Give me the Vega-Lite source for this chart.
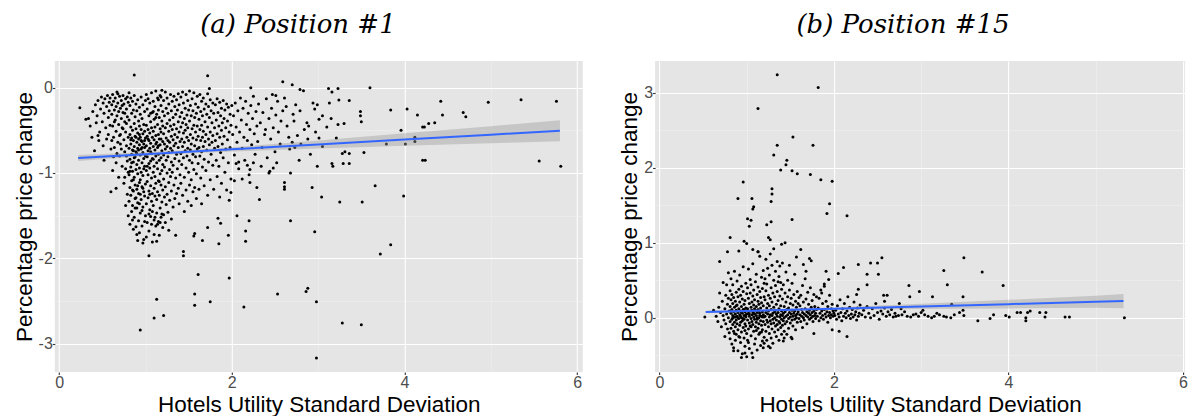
{
  "$schema": "https://vega.github.io/schema/vega-lite/v6.json",
  "background": "white",
  "padding": {"left": 12.8, "top": 12, "right": 0, "bottom": 0},
  "spacing": 35.3,
  "config": {
    "view": {"fill": "#E5E5E5", "stroke": null},
    "axis": {
      "domain": false,
      "grid": true,
      "gridColor": "white",
      "gridWidth": 1.1,
      "tickColor": "#333333",
      "tickSize": 2.5,
      "tickWidth": 1.1,
      "labelFont": "Liberation Sans",
      "labelFontSize": 16,
      "labelColor": "#4D4D4D",
      "labelPadding": 0,
      "labelOverlap": false,
      "labelFlush": false,
      "titleFont": "Liberation Sans",
      "titleFontSize": 22.5,
      "titleFontWeight": "normal",
      "titleColor": "black"
    },
    "title": {
      "font": "DejaVu Serif",
      "fontStyle": "italic",
      "fontWeight": "normal",
      "fontSize": 26,
      "color": "black",
      "anchor": "middle",
      "frame": "bounds",
      "offset": 23
    }
  },
  "datasets": {
    "a": [
      {"x":0.24,"y":-0.235},{"x":0.34,"y":-0.36},{"x":0.41,"y":-0.74},{"x":0.87,"y":0.15},{"x":1.72,"y":0.14},{"x":1.74,"y":-0.01},{"x":2.22,"y":0.0},{"x":2.59,"y":0.07},{"x":2.70,"y":0.035},{"x":2.79,"y":-0.02},{"x":2.83,"y":-0.035},{"x":3.12,"y":-0.01},{"x":3.23,"y":-0.01},{"x":3.60,"y":0.0},{"x":3.16,"y":-0.05},{"x":3.36,"y":-0.15},{"x":3.24,"y":-0.145},{"x":3.49,"y":-0.28},{"x":3.49,"y":-0.33},{"x":3.50,"y":-0.40},{"x":3.84,"y":-0.26},{"x":4.03,"y":-0.25},{"x":4.15,"y":-0.32},{"x":4.42,"y":-0.16},{"x":4.44,"y":-0.32},{"x":4.68,"y":-0.29},{"x":4.71,"y":-0.34},{"x":4.97,"y":-0.17},{"x":5.35,"y":-0.14},{"x":5.76,"y":-0.16},{"x":4.35,"y":-0.41},{"x":4.28,"y":-0.42},{"x":4.23,"y":-0.46},{"x":4.21,"y":-0.46},{"x":3.96,"y":-0.50},{"x":4.12,"y":-0.58},{"x":4.12,"y":-0.63},{"x":4.01,"y":-0.66},{"x":3.79,"y":-0.66},{"x":4.21,"y":-0.85},{"x":4.24,"y":-0.85},{"x":5.56,"y":-0.86},{"x":5.81,"y":-0.92},{"x":3.31,"y":-0.75},{"x":3.36,"y":-0.77},{"x":3.53,"y":-0.76},{"x":3.28,"y":-0.77},{"x":3.29,"y":-0.89},{"x":3.36,"y":-0.89},{"x":3.17,"y":-0.92},{"x":3.16,"y":-0.89},{"x":3.66,"y":-1.15},{"x":3.99,"y":-1.27},{"x":3.25,"y":-1.34},{"x":3.51,"y":-1.34},{"x":3.04,"y":-1.28},{"x":2.93,"y":-1.17},{"x":2.99,"y":-0.92},{"x":2.68,"y":-1.0},{"x":2.61,"y":-1.11},{"x":2.61,"y":-1.16},{"x":2.61,"y":-1.19},{"x":2.68,"y":-1.56},{"x":2.96,"y":-1.69},{"x":2.32,"y":-1.31},{"x":3.84,"y":-1.84},{"x":3.72,"y":-1.95},{"x":1.85,"y":-1.83},{"x":1.72,"y":-1.64},{"x":1.84,"y":-1.53},{"x":1.87,"y":-1.59},{"x":1.96,"y":-1.73},{"x":2.06,"y":-1.50},{"x":2.20,"y":-1.56},{"x":2.16,"y":-1.68},{"x":2.16,"y":-1.80},{"x":1.44,"y":-1.92},{"x":1.44,"y":-1.97},{"x":1.61,"y":-2.19},{"x":1.57,"y":-1.71},{"x":1.56,"y":-1.74},{"x":1.66,"y":-1.79},{"x":1.04,"y":-1.97},{"x":1.97,"y":-2.23},{"x":1.57,"y":-2.42},{"x":1.57,"y":-2.55},{"x":1.75,"y":-2.51},{"x":2.14,"y":-2.57},{"x":2.53,"y":-2.42},{"x":2.88,"y":-2.35},{"x":2.86,"y":-2.39},{"x":2.98,"y":-2.51},{"x":1.13,"y":-2.48},{"x":1.10,"y":-2.70},{"x":1.21,"y":-2.67},{"x":0.94,"y":-2.84},{"x":3.28,"y":-2.76},{"x":3.50,"y":-2.78},{"x":2.98,"y":-3.17},{"x":0.60,"y":-1.22},{"x":0.66,"y":-1.18},{"x":0.51,"y":-0.68},{"x":0.45,"y":-0.56},{"x":2.08,"y":-0.87},{"x":2.21,"y":-0.96},{"x":2.43,"y":-1.0},{"x":2.48,"y":-0.94},{"x":2.21,"y":-1.11},{"x":2.29,"y":-1.17},{"x":2.03,"y":-1.09},{"x":1.99,"y":-1.23},{"x":2.70,"y":-0.64},{"x":2.73,"y":-0.70},{"x":3.01,"y":-0.59},{"x":3.21,"y":-0.59},{"x":2.87,"y":-0.41},{"x":2.89,"y":-0.45},{"x":3.01,"y":-0.37},{"x":3.05,"y":-0.33},{"x":3.15,"y":-0.36},{"x":3.23,"y":-0.43},{"x":3.30,"y":-0.42},{"x":2.96,"y":-0.25},{"x":2.94,"y":-0.18},{"x":2.99,"y":-0.20},{"x":3.13,"y":-0.18},{"x":2.74,"y":-0.20},{"x":2.79,"y":-0.27},{"x":2.72,"y":-0.39},{"x":2.63,"y":-0.22},{"x":2.61,"y":-0.12},{"x":2.51,"y":-0.09},
      {"x":0.31,"y":-0.37},{"x":0.36,"y":-0.45},{"x":0.39,"y":-0.28},{"x":0.42,"y":-0.20},{"x":0.44,"y":-0.33},{"x":0.45,"y":-0.15},{"x":0.47,"y":-0.52},{"x":0.48,"y":-0.25},{"x":0.49,"y":-0.11},{"x":0.50,"y":-0.40},{"x":0.51,"y":-0.18},{"x":0.52,"y":-0.30},{"x":0.53,"y":-0.13},{"x":0.54,"y":-0.47},{"x":0.55,"y":-0.22},{"x":0.55,"y":-0.60},{"x":0.56,"y":-0.09},{"x":0.57,"y":-0.35},{"x":0.58,"y":-0.17},{"x":0.58,"y":-0.27},{"x":0.59,"y":-0.44},{"x":0.59,"y":-0.12},{"x":0.60,"y":-0.72},{"x":0.46,"y":-0.62},{"x":0.52,"y":-0.85},{"x":0.57,"y":-0.55},{"x":0.43,"y":-0.41},{"x":0.38,"y":-0.58},
      {"x":0.61,"y":-0.20},{"x":0.61,"y":-0.31},{"x":0.62,"y":-0.08},{"x":0.62,"y":-0.45},{"x":0.63,"y":-0.16},{"x":0.63,"y":-0.58},{"x":0.64,"y":-0.26},{"x":0.64,"y":-0.70},{"x":0.65,"y":-0.12},{"x":0.65,"y":-0.38},{"x":0.66,"y":-0.22},{"x":0.66,"y":-0.51},{"x":0.67,"y":-0.05},{"x":0.67,"y":-0.33},{"x":0.68,"y":-0.18},{"x":0.68,"y":-0.64},{"x":0.69,"y":-0.28},{"x":0.69,"y":-0.43},{"x":0.70,"y":-0.10},{"x":0.70,"y":-0.80},{"x":0.71,"y":-0.24},{"x":0.71,"y":-0.55},{"x":0.72,"y":-0.15},{"x":0.72,"y":-0.36},{"x":0.73,"y":-0.47},{"x":0.73,"y":-0.92},{"x":0.74,"y":-0.09},{"x":0.74,"y":-0.29},{"x":0.75,"y":-0.19},{"x":0.75,"y":-0.61},{"x":0.76,"y":-0.40},{"x":0.76,"y":-0.75},{"x":0.77,"y":-0.13},{"x":0.77,"y":-0.52},{"x":0.78,"y":-0.25},{"x":0.78,"y":-0.68},{"x":0.79,"y":-0.34},{"x":0.79,"y":-0.86},{"x":0.80,"y":-0.17},{"x":0.80,"y":-0.58},{"x":0.62,"y":-0.97},{"x":0.66,"y":-0.88},{"x":0.69,"y":-1.05},{"x":0.72,"y":-0.72},{"x":0.75,"y":-1.12},{"x":0.77,"y":-0.95},{"x":0.79,"y":-1.25},{"x":0.64,"y":-0.40},{"x":0.68,"y":-0.07},{"x":0.71,"y":-0.66},{"x":0.74,"y":-0.48},{"x":0.76,"y":-0.30},{"x":0.78,"y":-0.42},{"x":0.70,"y":-0.56},{"x":0.73,"y":-0.21},{"x":0.67,"y":-0.77},{"x":0.61,"y":-0.62},{"x":0.63,"y":-0.81},{"x":0.80,"y":-0.99},{"x":0.79,"y":-0.11},{"x":0.77,"y":-1.38},{"x":0.76,"y":-1.05},{"x":0.78,"y":-0.80},{"x":0.80,"y":-1.50},
      {"x":0.81,"y":-0.06},{"x":0.81,"y":-0.38},{"x":0.81,"y":-0.71},{"x":0.81,"y":-1.02},{"x":0.81,"y":-1.33},{"x":0.82,"y":-0.21},{"x":0.82,"y":-0.55},{"x":0.82,"y":-0.84},{"x":0.82,"y":-1.17},{"x":0.82,"y":-1.60},{"x":0.83,"y":-0.12},{"x":0.83,"y":-0.46},{"x":0.83,"y":-0.66},{"x":0.83,"y":-0.93},{"x":0.83,"y":-1.26},{"x":0.84,"y":-0.30},{"x":0.84,"y":-0.59},{"x":0.84,"y":-0.78},{"x":0.84,"y":-1.09},{"x":0.84,"y":-1.45},{"x":0.85,"y":-0.16},{"x":0.85,"y":-0.50},{"x":0.85,"y":-0.73},{"x":0.85,"y":-0.98},{"x":0.85,"y":-1.38},{"x":0.86,"y":-0.26},{"x":0.86,"y":-0.62},{"x":0.86,"y":-0.87},{"x":0.86,"y":-1.21},{"x":0.86,"y":-1.66},{"x":0.87,"y":-0.09},{"x":0.87,"y":-0.42},{"x":0.87,"y":-0.69},{"x":0.87,"y":-1.05},{"x":0.87,"y":-1.52},{"x":0.88,"y":-0.34},{"x":0.88,"y":-0.57},{"x":0.88,"y":-0.81},{"x":0.88,"y":-1.14},{"x":0.88,"y":-1.41},{"x":0.89,"y":-0.19},{"x":0.89,"y":-0.48},{"x":0.89,"y":-0.75},{"x":0.89,"y":-0.96},{"x":0.89,"y":-1.29},{"x":0.90,"y":-0.27},{"x":0.90,"y":-0.64},{"x":0.90,"y":-0.90},{"x":0.90,"y":-1.19},{"x":0.90,"y":-1.72},{"x":0.91,"y":-0.14},{"x":0.91,"y":-0.53},{"x":0.91,"y":-0.71},{"x":0.91,"y":-1.01},{"x":0.91,"y":-1.35},{"x":0.92,"y":-0.39},{"x":0.92,"y":-0.60},{"x":0.92,"y":-0.85},{"x":0.92,"y":-1.24},{"x":0.92,"y":-1.56},{"x":0.93,"y":-0.23},{"x":0.93,"y":-0.45},{"x":0.93,"y":-0.67},{"x":0.93,"y":-0.94},{"x":0.93,"y":-1.11},{"x":0.94,"y":-0.31},{"x":0.94,"y":-0.58},{"x":0.94,"y":-0.79},{"x":0.94,"y":-1.08},{"x":0.94,"y":-1.47},{"x":0.95,"y":-0.11},{"x":0.95,"y":-0.49},{"x":0.95,"y":-0.72},{"x":0.95,"y":-0.99},{"x":0.95,"y":-1.31},{"x":0.96,"y":-0.36},{"x":0.96,"y":-0.63},{"x":0.96,"y":-0.88},{"x":0.96,"y":-1.16},{"x":0.96,"y":-1.62},{"x":0.97,"y":-0.20},{"x":0.97,"y":-0.54},{"x":0.97,"y":-0.76},{"x":0.97,"y":-1.03},{"x":0.97,"y":-1.40},{"x":0.98,"y":-0.43},{"x":0.98,"y":-0.66},{"x":0.98,"y":-0.83},{"x":0.98,"y":-1.22},{"x":0.98,"y":-1.78},{"x":0.99,"y":-0.28},{"x":0.99,"y":-0.51},{"x":0.99,"y":-0.70},{"x":0.99,"y":-0.92},{"x":0.99,"y":-1.27},{"x":1.00,"y":-0.15},{"x":1.00,"y":-0.59},{"x":1.00,"y":-0.80},{"x":1.00,"y":-1.13},{"x":1.00,"y":-1.50},{"x":0.83,"y":-0.61},{"x":0.86,"y":-0.74},{"x":0.89,"y":-0.58},{"x":0.92,"y":-0.73},{"x":0.95,"y":-0.62},{"x":0.98,"y":-0.95},{"x":0.84,"y":-0.88},{"x":0.87,"y":-0.82},{"x":0.90,"y":-0.77},{"x":0.93,"y":-0.55},{"x":0.96,"y":-0.70},{"x":0.99,"y":-0.62},{"x":0.85,"y":-1.20},{"x":0.88,"y":-1.30},{"x":0.91,"y":-1.15},{"x":0.94,"y":-1.25},{"x":0.97,"y":-1.18},{"x":0.82,"y":-0.98},{"x":0.86,"y":-1.08},{"x":0.90,"y":-1.41},{"x":0.93,"y":-1.36},{"x":0.96,"y":-1.44},{"x":0.99,"y":-1.57},{"x":0.85,"y":-1.55},{"x":0.89,"y":-1.63},{"x":0.93,"y":-1.70},{"x":0.97,"y":-1.82},{"x":0.91,"y":-1.79},
      {"x":1.01,"y":-0.08},{"x":1.01,"y":-0.44},{"x":1.01,"y":-0.68},{"x":1.01,"y":-0.97},{"x":1.01,"y":-1.36},{"x":1.02,"y":-0.25},{"x":1.02,"y":-0.57},{"x":1.02,"y":-0.81},{"x":1.02,"y":-1.10},{"x":1.02,"y":-1.58},{"x":1.03,"y":-0.13},{"x":1.03,"y":-0.49},{"x":1.03,"y":-0.74},{"x":1.03,"y":-1.02},{"x":1.03,"y":-1.29},{"x":1.04,"y":-0.33},{"x":1.04,"y":-0.62},{"x":1.04,"y":-0.89},{"x":1.04,"y":-1.21},{"x":1.04,"y":-1.68},{"x":1.05,"y":-0.18},{"x":1.05,"y":-0.53},{"x":1.05,"y":-0.71},{"x":1.05,"y":-0.94},{"x":1.05,"y":-1.43},{"x":1.06,"y":-0.40},{"x":1.06,"y":-0.65},{"x":1.06,"y":-0.86},{"x":1.06,"y":-1.15},{"x":1.06,"y":-1.51},{"x":1.07,"y":-0.06},{"x":1.07,"y":-0.47},{"x":1.07,"y":-0.77},{"x":1.07,"y":-1.06},{"x":1.07,"y":-1.33},{"x":1.08,"y":-0.29},{"x":1.08,"y":-0.58},{"x":1.08,"y":-0.83},{"x":1.08,"y":-1.24},{"x":1.08,"y":-1.81},{"x":1.09,"y":-0.16},{"x":1.09,"y":-0.51},{"x":1.09,"y":-0.69},{"x":1.09,"y":-0.99},{"x":1.09,"y":-1.38},{"x":1.10,"y":-0.37},{"x":1.10,"y":-0.61},{"x":1.10,"y":-0.92},{"x":1.10,"y":-1.18},{"x":1.10,"y":-1.55},{"x":1.11,"y":-0.22},{"x":1.11,"y":-0.46},{"x":1.11,"y":-0.73},{"x":1.11,"y":-1.04},{"x":1.11,"y":-1.27},{"x":1.12,"y":-0.04},{"x":1.12,"y":-0.56},{"x":1.12,"y":-0.80},{"x":1.12,"y":-1.12},{"x":1.12,"y":-1.62},{"x":1.13,"y":-0.31},{"x":1.13,"y":-0.64},{"x":1.13,"y":-0.88},{"x":1.13,"y":-1.31},{"x":1.13,"y":-1.47},{"x":1.14,"y":-0.12},{"x":1.14,"y":-0.43},{"x":1.14,"y":-0.70},{"x":1.14,"y":-0.95},{"x":1.14,"y":-1.22},{"x":1.15,"y":-0.26},{"x":1.15,"y":-0.55},{"x":1.15,"y":-0.78},{"x":1.15,"y":-1.09},{"x":1.15,"y":-1.57},{"x":1.16,"y":-0.35},{"x":1.16,"y":-0.60},{"x":1.16,"y":-0.85},{"x":1.16,"y":-1.26},{"x":1.16,"y":-1.73},{"x":1.17,"y":-0.09},{"x":1.17,"y":-0.48},{"x":1.17,"y":-0.67},{"x":1.17,"y":-1.01},{"x":1.17,"y":-1.41},{"x":1.18,"y":-0.21},{"x":1.18,"y":-0.52},{"x":1.18,"y":-0.82},{"x":1.18,"y":-1.14},{"x":1.18,"y":-1.52},{"x":1.19,"y":-0.03},{"x":1.19,"y":-0.39},{"x":1.19,"y":-0.74},{"x":1.19,"y":-0.97},{"x":1.19,"y":-1.34},{"x":1.20,"y":-0.28},{"x":1.20,"y":-0.63},{"x":1.20,"y":-0.90},{"x":1.20,"y":-1.20},{"x":1.20,"y":-1.64},{"x":1.03,"y":-0.60},{"x":1.06,"y":-0.75},{"x":1.09,"y":-0.84},{"x":1.12,"y":-0.66},{"x":1.15,"y":-0.68},{"x":1.18,"y":-0.60},{"x":1.02,"y":-0.92},{"x":1.05,"y":-1.25},{"x":1.08,"y":-1.45},{"x":1.11,"y":-1.52},{"x":1.14,"y":-1.60},{"x":1.17,"y":-1.58},{"x":1.04,"y":-1.48},{"x":1.07,"y":-1.60},{"x":1.10,"y":-1.72},{"x":1.13,"y":-1.80},{"x":1.16,"y":-1.10},{"x":1.19,"y":-1.48},{"x":1.01,"y":-1.75},{"x":1.06,"y":-0.30},{"x":1.09,"y":-0.28},{"x":1.12,"y":-0.35},{"x":1.15,"y":-0.14},{"x":1.18,"y":-0.11},{"x":1.20,"y":-0.45},
      {"x":1.21,"y":-0.15},{"x":1.21,"y":-0.54},{"x":1.21,"y":-0.79},{"x":1.21,"y":-1.07},{"x":1.21,"y":-1.49},{"x":1.22,"y":-0.33},{"x":1.22,"y":-0.66},{"x":1.22,"y":-0.93},{"x":1.22,"y":-1.28},{"x":1.23,"y":-0.05},{"x":1.23,"y":-0.47},{"x":1.23,"y":-0.72},{"x":1.23,"y":-1.16},{"x":1.23,"y":-1.58},{"x":1.24,"y":-0.24},{"x":1.24,"y":-0.59},{"x":1.24,"y":-0.85},{"x":1.24,"y":-1.37},{"x":1.25,"y":-0.12},{"x":1.25,"y":-0.42},{"x":1.25,"y":-0.69},{"x":1.25,"y":-1.00},{"x":1.25,"y":-1.25},{"x":1.26,"y":-0.30},{"x":1.26,"y":-0.62},{"x":1.26,"y":-0.81},{"x":1.26,"y":-1.46},{"x":1.27,"y":-0.19},{"x":1.27,"y":-0.51},{"x":1.27,"y":-0.76},{"x":1.27,"y":-1.11},{"x":1.27,"y":-1.67},{"x":1.28,"y":-0.38},{"x":1.28,"y":-0.64},{"x":1.28,"y":-0.96},{"x":1.28,"y":-1.32},{"x":1.29,"y":-0.08},{"x":1.29,"y":-0.45},{"x":1.29,"y":-0.71},{"x":1.29,"y":-1.04},{"x":1.30,"y":-0.27},{"x":1.30,"y":-0.57},{"x":1.30,"y":-0.87},{"x":1.30,"y":-1.21},{"x":1.30,"y":-1.54},{"x":1.31,"y":-0.16},{"x":1.31,"y":-0.49},{"x":1.31,"y":-0.74},{"x":1.31,"y":-0.99},{"x":1.32,"y":-0.35},{"x":1.32,"y":-0.61},{"x":1.32,"y":-0.91},{"x":1.32,"y":-1.40},{"x":1.33,"y":-0.10},{"x":1.33,"y":-0.43},{"x":1.33,"y":-0.68},{"x":1.33,"y":-1.14},{"x":1.34,"y":-0.22},{"x":1.34,"y":-0.55},{"x":1.34,"y":-0.83},{"x":1.34,"y":-1.30},{"x":1.35,"y":-0.31},{"x":1.35,"y":-0.65},{"x":1.35,"y":-1.06},{"x":1.35,"y":-1.73},{"x":1.36,"y":-0.14},{"x":1.36,"y":-0.48},{"x":1.36,"y":-0.78},{"x":1.36,"y":-1.24},{"x":1.37,"y":-0.26},{"x":1.37,"y":-0.58},{"x":1.37,"y":-0.95},{"x":1.38,"y":-0.07},{"x":1.38,"y":-0.40},{"x":1.38,"y":-0.70},{"x":1.38,"y":-1.18},{"x":1.39,"y":-0.20},{"x":1.39,"y":-0.52},{"x":1.39,"y":-0.86},{"x":1.39,"y":-1.36},{"x":1.40,"y":-0.34},{"x":1.40,"y":-0.63},{"x":1.40,"y":-1.02},
      {"x":1.41,"y":-0.11},{"x":1.41,"y":-0.46},{"x":1.41,"y":-0.77},{"x":1.41,"y":-1.12},{"x":1.42,"y":-0.29},{"x":1.42,"y":-0.60},{"x":1.42,"y":-0.90},{"x":1.43,"y":-0.05},{"x":1.43,"y":-0.41},{"x":1.43,"y":-0.69},{"x":1.43,"y":-1.26},{"x":1.44,"y":-0.18},{"x":1.44,"y":-0.53},{"x":1.44,"y":-0.82},{"x":1.45,"y":-0.36},{"x":1.45,"y":-0.64},{"x":1.45,"y":-1.05},{"x":1.45,"y":-1.45},{"x":1.46,"y":-0.24},{"x":1.46,"y":-0.50},{"x":1.46,"y":-0.74},{"x":1.47,"y":-0.08},{"x":1.47,"y":-0.43},{"x":1.47,"y":-0.94},{"x":1.47,"y":-1.20},{"x":1.48,"y":-0.32},{"x":1.48,"y":-0.58},{"x":1.48,"y":-0.80},{"x":1.49,"y":-0.15},{"x":1.49,"y":-0.47},{"x":1.49,"y":-0.71},{"x":1.49,"y":-1.33},{"x":1.50,"y":-0.26},{"x":1.50,"y":-0.62},{"x":1.50,"y":-0.99},{"x":1.51,"y":-0.04},{"x":1.51,"y":-0.39},{"x":1.51,"y":-0.85},{"x":1.51,"y":-1.14},{"x":1.52,"y":-0.21},{"x":1.52,"y":-0.55},{"x":1.52,"y":-0.73},{"x":1.53,"y":-0.33},{"x":1.53,"y":-0.66},{"x":1.53,"y":-1.08},{"x":1.53,"y":-1.38},{"x":1.54,"y":-0.13},{"x":1.54,"y":-0.48},{"x":1.54,"y":-0.88},{"x":1.55,"y":-0.27},{"x":1.55,"y":-0.59},{"x":1.55,"y":-0.78},{"x":1.55,"y":-1.22},{"x":1.56,"y":-0.06},{"x":1.56,"y":-0.44},{"x":1.56,"y":-0.96},{"x":1.57,"y":-0.35},{"x":1.57,"y":-0.68},{"x":1.57,"y":-1.17},{"x":1.58,"y":-0.19},{"x":1.58,"y":-0.52},{"x":1.58,"y":-0.81},{"x":1.59,"y":-0.30},{"x":1.59,"y":-0.61},{"x":1.59,"y":-1.01},{"x":1.59,"y":-1.30},{"x":1.60,"y":-0.10},{"x":1.60,"y":-0.45},{"x":1.60,"y":-0.72},
      {"x":1.61,"y":-0.23},{"x":1.61,"y":-0.57},{"x":1.61,"y":-0.89},{"x":1.62,"y":-0.37},{"x":1.62,"y":-0.70},{"x":1.62,"y":-1.19},{"x":1.63,"y":-0.08},{"x":1.63,"y":-0.49},{"x":1.63,"y":-0.80},{"x":1.64,"y":-0.28},{"x":1.64,"y":-0.62},{"x":1.64,"y":-1.06},{"x":1.65,"y":-0.16},{"x":1.65,"y":-0.44},{"x":1.65,"y":-0.75},{"x":1.65,"y":-1.36},{"x":1.66,"y":-0.33},{"x":1.66,"y":-0.58},{"x":1.66,"y":-0.93},{"x":1.67,"y":-0.12},{"x":1.67,"y":-0.51},{"x":1.67,"y":-0.69},{"x":1.68,"y":-0.25},{"x":1.68,"y":-0.84},{"x":1.68,"y":-1.15},{"x":1.69,"y":-0.40},{"x":1.69,"y":-0.63},{"x":1.70,"y":-0.19},{"x":1.70,"y":-0.55},{"x":1.70,"y":-0.97},{"x":1.71,"y":-0.31},{"x":1.71,"y":-0.73},{"x":1.72,"y":-0.07},{"x":1.72,"y":-0.46},{"x":1.72,"y":-1.26},{"x":1.73,"y":-0.22},{"x":1.73,"y":-0.60},{"x":1.73,"y":-0.87},{"x":1.74,"y":-0.35},{"x":1.74,"y":-0.67},{"x":1.75,"y":-0.14},{"x":1.75,"y":-0.52},{"x":1.75,"y":-1.08},{"x":1.76,"y":-0.27},{"x":1.76,"y":-0.78},{"x":1.77,"y":-0.41},{"x":1.77,"y":-0.64},{"x":1.78,"y":-0.18},{"x":1.78,"y":-0.56},{"x":1.78,"y":-0.91},{"x":1.79,"y":-0.30},{"x":1.79,"y":-1.19},{"x":1.80,"y":-0.47},{"x":1.80,"y":-0.71},
      {"x":1.81,"y":-0.20},{"x":1.81,"y":-0.62},{"x":1.82,"y":-0.38},{"x":1.82,"y":-0.85},{"x":1.83,"y":-0.13},{"x":1.83,"y":-0.54},{"x":1.83,"y":-1.04},{"x":1.84,"y":-0.29},{"x":1.84,"y":-0.69},{"x":1.85,"y":-0.45},{"x":1.85,"y":-0.92},{"x":1.86,"y":-0.17},{"x":1.86,"y":-0.58},{"x":1.86,"y":-1.28},{"x":1.87,"y":-0.33},{"x":1.87,"y":-0.76},{"x":1.88,"y":-0.24},{"x":1.88,"y":-0.50},{"x":1.88,"y":-1.12},{"x":1.89,"y":-0.41},{"x":1.89,"y":-0.66},{"x":1.90,"y":-0.15},{"x":1.90,"y":-0.82},{"x":1.91,"y":-0.36},{"x":1.91,"y":-0.57},{"x":1.92,"y":-0.26},{"x":1.92,"y":-0.99},{"x":1.93,"y":-0.47},{"x":1.93,"y":-0.72},{"x":1.94,"y":-0.19},{"x":1.94,"y":-1.20},{"x":1.95,"y":-0.39},{"x":1.95,"y":-0.61},{"x":1.96,"y":-0.23},{"x":1.96,"y":-0.88},{"x":1.97,"y":-0.52},{"x":1.97,"y":-1.32},{"x":1.98,"y":-0.31},{"x":1.98,"y":-0.70},{"x":1.99,"y":-0.44},{"x":1.99,"y":-1.07},{"x":2.00,"y":-0.21},
      {"x":2.01,"y":-0.55},{"x":2.02,"y":-0.33},{"x":2.03,"y":-0.79},{"x":2.04,"y":-0.18},{"x":2.05,"y":-0.46},{"x":2.06,"y":-0.64},{"x":2.07,"y":-0.27},{"x":2.08,"y":-0.95},{"x":2.09,"y":-0.52},{"x":2.10,"y":-0.12},{"x":2.11,"y":-0.38},{"x":2.12,"y":-0.71},{"x":2.13,"y":-0.24},{"x":2.14,"y":-0.58},{"x":2.15,"y":-0.85},{"x":2.16,"y":-0.16},{"x":2.17,"y":-0.43},{"x":2.18,"y":-0.62},{"x":2.19,"y":-0.30},{"x":2.20,"y":-1.02},{"x":2.21,"y":-0.49},{"x":2.22,"y":-0.21},{"x":2.23,"y":-0.67},{"x":2.24,"y":-0.36},{"x":2.25,"y":-0.10},{"x":2.26,"y":-0.54},{"x":2.27,"y":-0.78},{"x":2.28,"y":-0.28},{"x":2.29,"y":-0.45},{"x":2.30,"y":-0.63},{"x":2.05,"y":-0.89},{"x":2.12,"y":-1.07},{"x":2.18,"y":-0.91},{"x":2.25,"y":-0.88},
      {"x":2.31,"y":-0.19},{"x":2.33,"y":-0.41},{"x":2.35,"y":-0.70},{"x":2.36,"y":-0.29},{"x":2.38,"y":-0.55},{"x":2.40,"y":-0.13},{"x":2.41,"y":-0.82},{"x":2.43,"y":-0.36},{"x":2.45,"y":-0.60},{"x":2.46,"y":-0.24},{"x":2.48,"y":-0.47},{"x":2.50,"y":-0.75},{"x":2.51,"y":-0.32},{"x":2.53,"y":-0.16},{"x":2.54,"y":-0.52},{"x":2.56,"y":-0.66},{"x":2.57,"y":-0.39},{"x":2.59,"y":-0.27},{"x":2.34,"y":-0.92},{"x":2.44,"y":-0.98},{"x":2.52,"y":-0.88},{"x":2.39,"y":-0.49},{"x":2.47,"y":-0.08},
      {"x":2.64,"y":-0.45},{"x":2.67,"y":-0.72},{"x":2.71,"y":-0.31},{"x":2.76,"y":-0.56},{"x":2.80,"y":-0.66},{"x":2.84,"y":-0.49},{"x":2.91,"y":-0.78},{"x":2.97,"y":-0.52},{"x":3.05,"y":-0.69},{"x":3.10,"y":-0.46},{"x":2.66,"y":-0.58},{"x":2.78,"y":-0.85},{"x":2.88,"y":-0.60}
    ],
    "fa": [
      {"x":0.22,"fit":-0.825,"lo":-0.86,"hi":-0.79},
      {"x":1.0,"fit":-0.780,"lo":-0.802,"hi":-0.758},
      {"x":1.5,"fit":-0.751,"lo":-0.771,"hi":-0.731},
      {"x":2.0,"fit":-0.723,"lo":-0.747,"hi":-0.699},
      {"x":3.0,"fit":-0.666,"lo":-0.714,"hi":-0.618},
      {"x":4.0,"fit":-0.608,"lo":-0.682,"hi":-0.534},
      {"x":5.0,"fit":-0.551,"lo":-0.651,"hi":-0.451},
      {"x":5.8,"fit":-0.505,"lo":-0.627,"hi":-0.383}
    ],
    "b": [
      {"x":1.35,"y":3.24},{"x":1.82,"y":3.07},{"x":1.13,"y":2.79},{"x":1.53,"y":2.41},{"x":1.35,"y":2.30},{"x":1.76,"y":2.30},{"x":1.31,"y":2.17},{"x":1.46,"y":2.10},{"x":1.45,"y":2.04},{"x":1.39,"y":1.97},{"x":1.52,"y":1.96},{"x":1.58,"y":1.92},{"x":1.73,"y":1.91},{"x":1.85,"y":1.84},{"x":1.98,"y":1.82},{"x":0.96,"y":1.81},{"x":1.29,"y":1.72},{"x":1.29,"y":1.65},{"x":0.90,"y":1.59},{"x":1.06,"y":1.59},{"x":1.28,"y":1.55},{"x":1.95,"y":1.52},{"x":1.08,"y":1.48},{"x":1.07,"y":1.45},{"x":1.92,"y":1.39},{"x":2.15,"y":1.36},{"x":1.01,"y":1.32},{"x":1.05,"y":1.30},{"x":1.52,"y":1.31},{"x":1.28,"y":1.28},{"x":1.03,"y":1.22},{"x":1.23,"y":1.24},{"x":1.25,"y":1.07},{"x":1.27,"y":1.04},{"x":0.81,"y":1.07},{"x":0.97,"y":1.02},{"x":1.0,"y":0.99},{"x":1.44,"y":1.0},{"x":1.62,"y":0.91},{"x":1.40,"y":0.98},{"x":0.69,"y":0.75},{"x":0.78,"y":0.88},{"x":0.91,"y":0.89},{"x":1.13,"y":0.88},{"x":1.57,"y":0.81},{"x":1.72,"y":0.79},{"x":1.74,"y":0.76},{"x":1.65,"y":0.71},{"x":2.55,"y":0.80},{"x":2.50,"y":0.73},{"x":2.42,"y":0.73},{"x":2.28,"y":0.71},{"x":2.51,"y":0.58},{"x":2.11,"y":0.67},{"x":2.05,"y":0.59},{"x":1.91,"y":0.62},{"x":1.94,"y":0.51},{"x":1.89,"y":0.42},{"x":2.38,"y":0.58},{"x":2.38,"y":0.44},{"x":2.28,"y":0.38},{"x":2.26,"y":0.31},{"x":3.26,"y":0.63},{"x":3.49,"y":0.80},{"x":3.70,"y":0.61},{"x":3.30,"y":0.44},{"x":3.94,"y":0.43},{"x":2.86,"y":0.43},{"x":2.98,"y":0.35},{"x":2.87,"y":0.28},{"x":3.13,"y":0.28},{"x":3.48,"y":0.28},{"x":2.57,"y":0.30},{"x":2.61,"y":0.30},{"x":2.58,"y":0.22},{"x":2.75,"y":0.19},{"x":3.35,"y":0.18},{"x":3.48,"y":0.10},{"x":3.49,"y":0.03},{"x":3.65,"y":-0.04},{"x":3.79,"y":-0.01},{"x":3.83,"y":0.04},{"x":3.97,"y":0.03},{"x":4.01,"y":0.01},{"x":4.10,"y":0.07},{"x":4.14,"y":0.07},{"x":4.20,"y":0.0},{"x":4.20,"y":-0.04},{"x":4.22,"y":0.07},{"x":4.25,"y":0.09},{"x":4.36,"y":0.07},{"x":4.42,"y":0.01},{"x":4.43,"y":0.07},{"x":4.65,"y":0.01},{"x":4.70,"y":0.01},{"x":5.33,"y":0.0},{"x":0.52,"y":0.01},{"x":3.21,"y":0.04},{"x":3.26,"y":0.02},{"x":3.34,"y":0.0},{"x":3.15,"y":0.02},{"x":3.04,"y":0.04},{"x":3.0,"y":0.07},{"x":2.97,"y":0.02},{"x":2.91,"y":0.04},{"x":2.84,"y":0.02},{"x":2.78,"y":0.04},{"x":2.71,"y":0.02},{"x":2.15,"y":-0.25},{"x":2.06,"y":-0.18},{"x":1.98,"y":-0.16},{"x":1.77,"y":-0.21},{"x":1.52,"y":-0.28},{"x":1.42,"y":-0.31},{"x":1.43,"y":-0.27},{"x":1.07,"y":-0.53},{"x":0.94,"y":-0.53},{"x":0.98,"y":-0.47},{"x":0.85,"y":-0.44},{"x":1.27,"y":-0.40},{"x":1.20,"y":-0.34},
      {"x":0.62,"y":0.10},{"x":0.65,"y":0.02},{"x":0.67,"y":-0.05},{"x":0.68,"y":0.14},{"x":0.70,"y":0.07},{"x":0.71,"y":-0.12},{"x":0.72,"y":0.22},{"x":0.73,"y":0.03},{"x":0.74,"y":-0.03},{"x":0.75,"y":0.12},{"x":0.76,"y":0.30},{"x":0.76,"y":-0.08},{"x":0.77,"y":0.05},{"x":0.77,"y":0.44},{"x":0.78,"y":0.18},{"x":0.78,"y":-0.15},{"x":0.79,"y":0.00},{"x":0.79,"y":0.26},{"x":0.80,"y":0.09},{"x":0.80,"y":-0.20},{"x":0.73,"y":0.47},{"x":0.69,"y":0.33},{"x":0.75,"y":-0.25},{"x":0.79,"y":0.60},
      {"x":0.81,"y":-0.05},{"x":0.81,"y":0.15},{"x":0.81,"y":0.36},{"x":0.81,"y":-0.28},{"x":0.82,"y":0.06},{"x":0.82,"y":-0.14},{"x":0.82,"y":0.24},{"x":0.82,"y":0.52},{"x":0.83,"y":-0.02},{"x":0.83,"y":0.11},{"x":0.83,"y":-0.35},{"x":0.83,"y":0.31},{"x":0.84,"y":0.03},{"x":0.84,"y":-0.09},{"x":0.84,"y":0.19},{"x":0.84,"y":0.44},{"x":0.85,"y":-0.18},{"x":0.85,"y":0.08},{"x":0.85,"y":0.27},{"x":0.85,"y":-0.40},{"x":0.86,"y":0.01},{"x":0.86,"y":-0.06},{"x":0.86,"y":0.14},{"x":0.86,"y":0.62},{"x":0.87,"y":-0.12},{"x":0.87,"y":0.05},{"x":0.87,"y":0.22},{"x":0.87,"y":-0.30},{"x":0.88,"y":0.10},{"x":0.88,"y":-0.03},{"x":0.88,"y":0.34},{"x":0.88,"y":-0.22},{"x":0.89,"y":-0.08},{"x":0.89,"y":0.02},{"x":0.89,"y":0.17},{"x":0.89,"y":0.49},{"x":0.90,"y":0.07},{"x":0.90,"y":-0.16},{"x":0.90,"y":0.28},{"x":0.90,"y":-0.44},{"x":0.91,"y":-0.01},{"x":0.91,"y":0.12},{"x":0.91,"y":-0.25},{"x":0.91,"y":0.38},{"x":0.92,"y":0.04},{"x":0.92,"y":-0.10},{"x":0.92,"y":0.21},{"x":0.92,"y":0.57},{"x":0.93,"y":-0.06},{"x":0.93,"y":0.09},{"x":0.93,"y":-0.33},{"x":0.93,"y":0.30},{"x":0.94,"y":0.00},{"x":0.94,"y":0.15},{"x":0.94,"y":-0.19},{"x":0.94,"y":0.42},{"x":0.95,"y":-0.04},{"x":0.95,"y":0.06},{"x":0.95,"y":0.25},{"x":0.95,"y":-0.48},{"x":0.96,"y":0.11},{"x":0.96,"y":-0.13},{"x":0.96,"y":0.35},{"x":0.96,"y":0.68},{"x":0.97,"y":-0.02},{"x":0.97,"y":0.03},{"x":0.97,"y":0.18},{"x":0.97,"y":-0.27},{"x":0.98,"y":0.08},{"x":0.98,"y":-0.08},{"x":0.98,"y":0.23},{"x":0.98,"y":-0.38},{"x":0.99,"y":-0.11},{"x":0.99,"y":0.01},{"x":0.99,"y":0.13},{"x":0.99,"y":0.46},{"x":1.00,"y":0.05},{"x":1.00,"y":-0.21},{"x":1.00,"y":0.32},{"x":1.00,"y":-0.52},{"x":0.84,"y":0.00},{"x":0.87,"y":0.01},{"x":0.90,"y":0.00},{"x":0.93,"y":0.02},{"x":0.96,"y":-0.01},{"x":0.99,"y":0.04},{"x":0.82,"y":0.09},{"x":0.88,"y":0.16},{"x":0.94,"y":0.07},{"x":0.97,"y":0.11},{"x":0.86,"y":-0.21},{"x":0.92,"y":-0.26},{"x":0.98,"y":-0.17},
      {"x":1.01,"y":-0.03},{"x":1.01,"y":0.12},{"x":1.01,"y":0.40},{"x":1.01,"y":-0.30},{"x":1.02,"y":0.06},{"x":1.02,"y":-0.15},{"x":1.02,"y":0.26},{"x":1.02,"y":0.65},{"x":1.03,"y":-0.07},{"x":1.03,"y":0.02},{"x":1.03,"y":0.19},{"x":1.03,"y":-0.41},{"x":1.04,"y":0.09},{"x":1.04,"y":-0.11},{"x":1.04,"y":0.33},{"x":1.04,"y":0.51},{"x":1.05,"y":-0.01},{"x":1.05,"y":0.14},{"x":1.05,"y":-0.24},{"x":1.05,"y":0.44},{"x":1.06,"y":0.04},{"x":1.06,"y":-0.05},{"x":1.06,"y":0.21},{"x":1.06,"y":-0.47},{"x":1.07,"y":-0.09},{"x":1.07,"y":0.08},{"x":1.07,"y":0.29},{"x":1.07,"y":0.72},{"x":1.08,"y":0.01},{"x":1.08,"y":-0.18},{"x":1.08,"y":0.17},{"x":1.08,"y":0.37},{"x":1.09,"y":0.05},{"x":1.09,"y":-0.02},{"x":1.09,"y":0.24},{"x":1.09,"y":-0.35},{"x":1.10,"y":-0.12},{"x":1.10,"y":0.10},{"x":1.10,"y":0.48},{"x":1.10,"y":-0.28},{"x":1.11,"y":0.03},{"x":1.11,"y":-0.06},{"x":1.11,"y":0.15},{"x":1.11,"y":0.58},{"x":1.12,"y":-0.02},{"x":1.12,"y":0.07},{"x":1.12,"y":0.31},{"x":1.12,"y":-0.43},{"x":1.13,"y":0.11},{"x":1.13,"y":-0.14},{"x":1.13,"y":0.22},{"x":1.13,"y":0.41},{"x":1.14,"y":0.00},{"x":1.14,"y":-0.08},{"x":1.14,"y":0.18},{"x":1.14,"y":-0.22},{"x":1.15,"y":0.06},{"x":1.15,"y":-0.20},{"x":1.15,"y":0.35},{"x":1.15,"y":0.82},{"x":1.16,"y":-0.04},{"x":1.16,"y":0.13},{"x":1.16,"y":0.27},{"x":1.16,"y":-0.37},{"x":1.17,"y":0.02},{"x":1.17,"y":-0.10},{"x":1.17,"y":0.20},{"x":1.17,"y":0.54},{"x":1.18,"y":0.08},{"x":1.18,"y":-0.16},{"x":1.18,"y":0.39},{"x":1.18,"y":-0.31},{"x":1.19,"y":-0.05},{"x":1.19,"y":0.04},{"x":1.19,"y":0.16},{"x":1.19,"y":0.63},{"x":1.20,"y":0.01},{"x":1.20,"y":-0.26},{"x":1.20,"y":0.28},{"x":1.20,"y":0.46},{"x":1.03,"y":0.05},{"x":1.06,"y":0.10},{"x":1.09,"y":0.12},{"x":1.12,"y":0.00},{"x":1.15,"y":0.03},{"x":1.18,"y":0.01},{"x":1.05,"y":-0.12},{"x":1.11,"y":-0.17},{"x":1.17,"y":-0.19},{"x":1.08,"y":0.06},{"x":1.14,"y":0.09},{"x":1.02,"y":-0.33},{"x":1.19,"y":-0.40},{"x":1.13,"y":0.88},{"x":1.07,"y":0.91},
      {"x":1.21,"y":0.02},{"x":1.21,"y":-0.09},{"x":1.21,"y":0.24},{"x":1.21,"y":0.52},{"x":1.22,"y":0.07},{"x":1.22,"y":-0.18},{"x":1.22,"y":0.36},{"x":1.22,"y":0.78},{"x":1.23,"y":-0.03},{"x":1.23,"y":0.13},{"x":1.23,"y":-0.30},{"x":1.23,"y":0.45},{"x":1.24,"y":0.05},{"x":1.24,"y":-0.06},{"x":1.24,"y":0.19},{"x":1.24,"y":0.66},{"x":1.25,"y":-0.12},{"x":1.25,"y":0.09},{"x":1.25,"y":0.30},{"x":1.25,"y":-0.38},{"x":1.26,"y":0.01},{"x":1.26,"y":0.16},{"x":1.26,"y":-0.21},{"x":1.26,"y":0.57},{"x":1.27,"y":0.04},{"x":1.27,"y":-0.04},{"x":1.27,"y":0.26},{"x":1.27,"y":0.85},{"x":1.28,"y":-0.08},{"x":1.28,"y":0.11},{"x":1.28,"y":0.40},{"x":1.28,"y":-0.27},{"x":1.29,"y":0.03},{"x":1.29,"y":-0.15},{"x":1.29,"y":0.21},{"x":1.29,"y":0.70},{"x":1.30,"y":0.06},{"x":1.30,"y":-0.02},{"x":1.30,"y":0.33},{"x":1.30,"y":-0.34},{"x":1.31,"y":-0.07},{"x":1.31,"y":0.14},{"x":1.31,"y":0.50},{"x":1.31,"y":0.92},{"x":1.32,"y":0.00},{"x":1.32,"y":0.08},{"x":1.32,"y":-0.19},{"x":1.32,"y":0.28},{"x":1.33,"y":0.10},{"x":1.33,"y":-0.11},{"x":1.33,"y":0.43},{"x":1.33,"y":0.62},{"x":1.34,"y":-0.03},{"x":1.34,"y":0.05},{"x":1.34,"y":0.18},{"x":1.34,"y":-0.25},{"x":1.35,"y":0.02},{"x":1.35,"y":-0.09},{"x":1.35,"y":0.35},{"x":1.35,"y":0.75},{"x":1.36,"y":0.07},{"x":1.36,"y":-0.16},{"x":1.36,"y":0.23},{"x":1.36,"y":0.48},{"x":1.37,"y":-0.05},{"x":1.37,"y":0.12},{"x":1.37,"y":0.55},{"x":1.37,"y":-0.30},{"x":1.38,"y":0.01},{"x":1.38,"y":-0.07},{"x":1.38,"y":0.29},{"x":1.38,"y":0.69},{"x":1.39,"y":0.04},{"x":1.39,"y":0.16},{"x":1.39,"y":-0.13},{"x":1.39,"y":0.47},{"x":1.40,"y":-0.02},{"x":1.40,"y":0.09},{"x":1.40,"y":0.38},{"x":1.40,"y":-0.22},
      {"x":1.41,"y":0.03},{"x":1.41,"y":-0.10},{"x":1.41,"y":0.25},{"x":1.41,"y":0.73},{"x":1.42,"y":0.06},{"x":1.42,"y":-0.04},{"x":1.42,"y":0.44},{"x":1.43,"y":0.00},{"x":1.43,"y":0.15},{"x":1.43,"y":-0.18},{"x":1.44,"y":0.08},{"x":1.44,"y":0.33},{"x":1.44,"y":-0.08},{"x":1.45,"y":0.02},{"x":1.45,"y":0.21},{"x":1.45,"y":0.61},{"x":1.46,"y":-0.05},{"x":1.46,"y":0.11},{"x":1.46,"y":-0.22},{"x":1.47,"y":0.04},{"x":1.47,"y":0.28},{"x":1.47,"y":0.50},{"x":1.48,"y":-0.01},{"x":1.48,"y":0.13},{"x":1.48,"y":-0.14},{"x":1.49,"y":0.07},{"x":1.49,"y":0.37},{"x":1.49,"y":0.70},{"x":1.50,"y":0.01},{"x":1.50,"y":-0.07},{"x":1.50,"y":0.19},{"x":1.51,"y":0.05},{"x":1.51,"y":0.26},{"x":1.51,"y":-0.26},{"x":1.52,"y":-0.03},{"x":1.52,"y":0.10},{"x":1.52,"y":0.46},{"x":1.53,"y":0.02},{"x":1.53,"y":0.17},{"x":1.53,"y":-0.11},{"x":1.54,"y":0.06},{"x":1.54,"y":0.31},{"x":1.55,"y":-0.02},{"x":1.55,"y":0.09},{"x":1.55,"y":0.58},{"x":1.56,"y":0.03},{"x":1.56,"y":0.22},{"x":1.56,"y":-0.16},{"x":1.57,"y":0.00},{"x":1.57,"y":0.14},{"x":1.58,"y":0.05},{"x":1.58,"y":0.35},{"x":1.58,"y":-0.06},{"x":1.59,"y":0.08},{"x":1.59,"y":0.19},{"x":1.60,"y":-0.01},{"x":1.60,"y":0.27},
      {"x":1.61,"y":0.04},{"x":1.61,"y":0.16},{"x":1.62,"y":-0.05},{"x":1.62,"y":0.30},{"x":1.63,"y":0.02},{"x":1.63,"y":0.11},{"x":1.64,"y":0.07},{"x":1.64,"y":-0.13},{"x":1.64,"y":0.43},{"x":1.65,"y":0.00},{"x":1.65,"y":0.21},{"x":1.66,"y":0.05},{"x":1.66,"y":-0.03},{"x":1.67,"y":0.12},{"x":1.67,"y":0.52},{"x":1.68,"y":0.03},{"x":1.68,"y":0.25},{"x":1.69,"y":-0.08},{"x":1.69,"y":0.08},{"x":1.70,"y":0.01},{"x":1.70,"y":0.34},{"x":1.71,"y":0.06},{"x":1.71,"y":0.18},{"x":1.72,"y":-0.02},{"x":1.72,"y":0.10},{"x":1.73,"y":0.04},{"x":1.73,"y":0.40},{"x":1.74,"y":0.00},{"x":1.74,"y":0.14},{"x":1.75,"y":0.07},{"x":1.75,"y":0.23},{"x":1.76,"y":-0.05},{"x":1.76,"y":0.02},{"x":1.77,"y":0.09},{"x":1.77,"y":0.31},{"x":1.78,"y":0.03},{"x":1.78,"y":0.15},{"x":1.79,"y":-0.01},{"x":1.79,"y":0.06},{"x":1.80,"y":0.11},{"x":1.80,"y":0.28},{"x":1.68,"y":0.62},
      {"x":1.81,"y":0.02},{"x":1.82,"y":0.13},{"x":1.83,"y":-0.04},{"x":1.83,"y":0.26},{"x":1.84,"y":0.06},{"x":1.85,"y":0.00},{"x":1.85,"y":0.37},{"x":1.86,"y":0.09},{"x":1.87,"y":0.03},{"x":1.87,"y":0.19},{"x":1.88,"y":-0.02},{"x":1.89,"y":0.11},{"x":1.89,"y":0.45},{"x":1.90,"y":0.05},{"x":1.91,"y":0.01},{"x":1.91,"y":0.22},{"x":1.92,"y":0.08},{"x":1.93,"y":-0.06},{"x":1.93,"y":0.15},{"x":1.94,"y":0.03},{"x":1.95,"y":0.30},{"x":1.95,"y":0.07},{"x":1.96,"y":0.00},{"x":1.97,"y":0.12},{"x":1.97,"y":0.04},{"x":1.98,"y":0.18},{"x":1.99,"y":0.02},{"x":1.99,"y":0.09},{"x":2.00,"y":0.06},{"x":1.86,"y":0.33},
      {"x":2.01,"y":0.03},{"x":2.02,"y":0.10},{"x":2.03,"y":-0.02},{"x":2.04,"y":0.16},{"x":2.05,"y":0.05},{"x":2.06,"y":0.01},{"x":2.07,"y":0.24},{"x":2.08,"y":0.07},{"x":2.09,"y":-0.04},{"x":2.10,"y":0.12},{"x":2.11,"y":0.02},{"x":2.12,"y":0.19},{"x":2.13,"y":0.06},{"x":2.14,"y":0.00},{"x":2.15,"y":0.09},{"x":2.16,"y":0.28},{"x":2.17,"y":0.03},{"x":2.18,"y":0.14},{"x":2.19,"y":-0.01},{"x":2.20,"y":0.05},{"x":2.21,"y":0.11},{"x":2.22,"y":0.01},{"x":2.23,"y":0.21},{"x":2.24,"y":0.04},{"x":2.25,"y":0.08},{"x":2.26,"y":-0.03},{"x":2.27,"y":0.13},{"x":2.28,"y":0.02},{"x":2.29,"y":0.06},{"x":2.30,"y":0.17},
      {"x":2.32,"y":0.04},{"x":2.34,"y":0.10},{"x":2.36,"y":0.01},{"x":2.38,"y":0.15},{"x":2.40,"y":0.06},{"x":2.42,"y":0.00},{"x":2.44,"y":0.12},{"x":2.46,"y":0.03},{"x":2.48,"y":0.19},{"x":2.50,"y":0.07},{"x":2.52,"y":-0.02},{"x":2.54,"y":0.09},{"x":2.56,"y":0.05},{"x":2.58,"y":0.13},{"x":2.60,"y":0.02},{"x":2.62,"y":0.08},{"x":2.64,"y":0.04},{"x":2.66,"y":0.11},{"x":2.68,"y":0.01},{"x":2.70,"y":0.06},
      {"x":2.74,"y":0.03},{"x":2.81,"y":0.08},{"x":2.88,"y":0.01},{"x":2.94,"y":0.05},{"x":3.02,"y":0.10},{"x":3.08,"y":0.02},{"x":3.18,"y":0.06},{"x":3.29,"y":0.01},{"x":3.38,"y":0.04},{"x":3.44,"y":0.07},{"x":2.77,"y":0.12},{"x":3.12,"y":0.00}
    ],
    "fb": [
      {"x":0.53,"fit":0.076,"lo":0.058,"hi":0.094},
      {"x":1.0,"fit":0.090,"lo":0.076,"hi":0.104},
      {"x":1.5,"fit":0.105,"lo":0.092,"hi":0.118},
      {"x":2.0,"fit":0.120,"lo":0.104,"hi":0.136},
      {"x":3.0,"fit":0.151,"lo":0.116,"hi":0.186},
      {"x":4.0,"fit":0.181,"lo":0.124,"hi":0.238},
      {"x":5.0,"fit":0.212,"lo":0.132,"hi":0.292},
      {"x":5.32,"fit":0.222,"lo":0.127,"hi":0.317}
    ]
  },
  "hconcat": [
    {
      "width": 528,
      "height": 311,
      "title": {"text": "(a) Position #1"},
      "layer": [
        {
          "data": {"name": "a"},
          "mark": {"type": "circle", "color": "black", "size": 9, "opacity": 1},
          "encoding": {
            "x": {
              "field": "x", "type": "quantitative",
              "scale": {"domain": [-0.05, 6.065], "nice": false, "zero": false},
              "axis": {
                "title": "Hotels Utility Standard Deviation",
                "values": [0, 1, 2, 3, 4, 5, 6],
                "labelExpr": "datum.value % 2 === 0 ? '' + datum.value : ''",
                "tickOpacity": {"condition": {"test": "datum.value % 2 !== 0", "value": 0}, "value": 1},
                "gridWidth": {"condition": {"test": "datum.value % 2 !== 0", "value": 0.55}, "value": 1.1},
                "gridColor": {"condition": {"test": "datum.value % 2 !== 0", "value": "#F2F2F2"}, "value": "white"},
                "titlePadding": 2.7
              }
            },
            "y": {
              "field": "y", "type": "quantitative",
              "scale": {"domain": [-3.333, 0.313], "nice": false, "zero": false},
              "axis": {
                "title": "Percentage price change",
                "values": [-3, -2.5, -2, -1.5, -1, -0.5, 0],
                "labelExpr": "datum.value % 1 === 0 ? (datum.value < 0 ? '-' + abs(datum.value) : '' + datum.value) : ''",
                "tickOpacity": {"condition": {"test": "datum.value % 1 !== 0", "value": 0}, "value": 1},
                "gridWidth": {"condition": {"test": "datum.value % 1 !== 0", "value": 0.55}, "value": 1.1},
                "gridColor": {"condition": {"test": "datum.value % 1 !== 0", "value": "#F2F2F2"}, "value": "white"},
                "titlePadding": 2
              }
            }
          }
        },
        {
          "data": {"name": "fa"},
          "mark": {"type": "area", "color": "#999999", "opacity": 0.4},
          "encoding": {
            "x": {"field": "x", "type": "quantitative", "scale": {"domain": [-0.05, 6.065], "nice": false, "zero": false}},
            "y": {"field": "lo", "type": "quantitative", "scale": {"domain": [-3.333, 0.313], "nice": false, "zero": false}},
            "y2": {"field": "hi"}
          }
        },
        {
          "data": {"name": "fa"},
          "mark": {"type": "line", "color": "#3366FF", "strokeWidth": 2},
          "encoding": {
            "x": {"field": "x", "type": "quantitative", "scale": {"domain": [-0.05, 6.065], "nice": false, "zero": false}},
            "y": {"field": "fit", "type": "quantitative", "scale": {"domain": [-3.333, 0.313], "nice": false, "zero": false}}
          }
        }
      ]
    },
    {
      "width": 530,
      "height": 311,
      "title": {"text": "(b) Position #15"},
      "layer": [
        {
          "data": {"name": "b"},
          "mark": {"type": "circle", "color": "black", "size": 9, "opacity": 1},
          "encoding": {
            "x": {
              "field": "x", "type": "quantitative",
              "scale": {"domain": [-0.05, 6.026], "nice": false, "zero": false},
              "axis": {
                "title": "Hotels Utility Standard Deviation",
                "values": [0, 1, 2, 3, 4, 5, 6],
                "labelExpr": "datum.value % 2 === 0 ? '' + datum.value : ''",
                "tickOpacity": {"condition": {"test": "datum.value % 2 !== 0", "value": 0}, "value": 1},
                "gridWidth": {"condition": {"test": "datum.value % 2 !== 0", "value": 0.55}, "value": 1.1},
                "gridColor": {"condition": {"test": "datum.value % 2 !== 0", "value": "#F2F2F2"}, "value": "white"},
                "titlePadding": 2.7
              }
            },
            "y": {
              "field": "y", "type": "quantitative",
              "scale": {"domain": [-0.724, 3.423], "nice": false, "zero": false},
              "axis": {
                "title": "Percentage price change",
                "values": [-0.5, 0, 0.5, 1, 1.5, 2, 2.5, 3],
                "labelExpr": "datum.value % 1 === 0 ? (datum.value < 0 ? '-' + abs(datum.value) : '' + datum.value) : ''",
                "tickOpacity": {"condition": {"test": "datum.value % 1 !== 0", "value": 0}, "value": 1},
                "gridWidth": {"condition": {"test": "datum.value % 1 !== 0", "value": 0.55}, "value": 1.1},
                "gridColor": {"condition": {"test": "datum.value % 1 !== 0", "value": "#F2F2F2"}, "value": "white"},
                "titlePadding": 2
              }
            }
          }
        },
        {
          "data": {"name": "fb"},
          "mark": {"type": "area", "color": "#999999", "opacity": 0.4},
          "encoding": {
            "x": {"field": "x", "type": "quantitative", "scale": {"domain": [-0.05, 6.026], "nice": false, "zero": false}},
            "y": {"field": "lo", "type": "quantitative", "scale": {"domain": [-0.724, 3.423], "nice": false, "zero": false}},
            "y2": {"field": "hi"}
          }
        },
        {
          "data": {"name": "fb"},
          "mark": {"type": "line", "color": "#3366FF", "strokeWidth": 2},
          "encoding": {
            "x": {"field": "x", "type": "quantitative", "scale": {"domain": [-0.05, 6.026], "nice": false, "zero": false}},
            "y": {"field": "fit", "type": "quantitative", "scale": {"domain": [-0.724, 3.423], "nice": false, "zero": false}}
          }
        }
      ]
    }
  ]
}
